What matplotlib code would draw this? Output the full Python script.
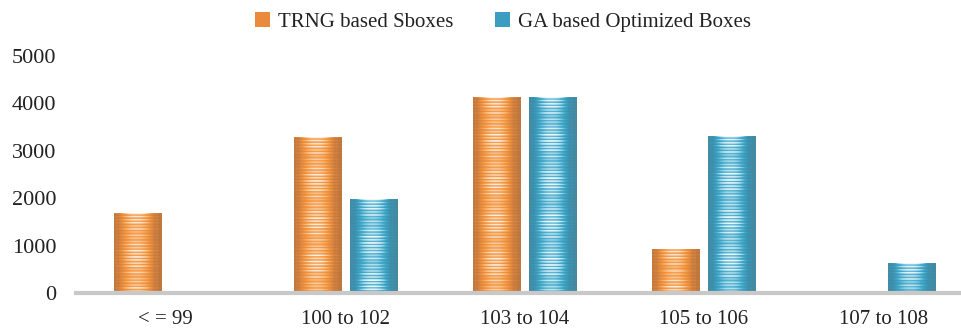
import numpy as np
import matplotlib
matplotlib.use("Agg")
import matplotlib.pyplot as plt
from matplotlib.colors import LinearSegmentedColormap

categories = ["< = 99", "100 to 102", "103 to 104", "105 to 106", "107 to 108"]
trng_values = [1680, 3290, 4130, 930, 0]
ga_values = [0, 1980, 4130, 3310, 630]
series_names = ["TRNG based Sboxes", "GA based Optimized Boxes"]
y_ticks = [0, 1000, 2000, 3000, 4000, 5000]

plt.rcParams["font.family"] = ["Liberation Serif", "DejaVu Serif"]

fig = plt.figure(figsize=(9.61, 3.29), dpi=100)
ax = fig.add_axes([0.0791, 0.1094, 0.9334, 0.7204])

x = np.arange(len(categories))
bw = 0.262
off = 0.156

orange_cmap = LinearSegmentedColormap.from_list(
    "orng", ["#B0703C", "#D88440", "#F3953F", "#F9C08A", "#FDEEE2"])
blue_cmap = LinearSegmentedColormap.from_list(
    "blu", ["#4A8396", "#3B94B3", "#44AACB", "#A6D9EA", "#EDF7FA"])

b1 = ax.bar(x - off, trng_values, bw, color="#E98A3C", label=series_names[0],
            linewidth=0, zorder=2)
b2 = ax.bar(x + off, ga_values, bw, color="#3B9EC0", label=series_names[1],
            linewidth=0, zorder=2)

ax.set_xlim(-0.5, len(categories) - 0.5)
ax.set_ylim(0, 5000)
fig.canvas.draw()


def striped_texture(w_px, h_px):
    xs = np.linspace(0, 1, max(w_px, 2))
    # light band through the middle, darker strips toward both edges
    prof = np.clip(1.0 - 2.6 * np.abs(xs - 0.47) ** 2.0 * 2.0, 0.25, 1.0)
    prof[:max(1, w_px // 20)] *= 0.75
    prof[-max(1, w_px // 10):] *= 0.6
    rows = np.arange(max(h_px, 2))
    fine = 0.5 + 0.5 * np.cos(2 * np.pi * rows / 3.1)
    medium = 0.5 + 0.5 * np.sin(2 * np.pi * rows / 7.3 + 0.8)
    slow = 0.5 + 0.5 * np.sin(2 * np.pi * rows / 41.0 + 1.3)
    stripes = 0.15 + 0.5 * fine * (0.4 + 0.6 * medium) + 0.35 * slow * fine
    v = prof[None, :] * (0.45 + 0.65 * stripes[:, None])
    return np.clip(v, 0, 1)


for bars, cmap in ((b1, orange_cmap), (b2, blue_cmap)):
    for rect in bars:
        h = rect.get_height()
        if h <= 0:
            continue
        x0 = rect.get_x()
        x1 = x0 + rect.get_width()
        p0 = ax.transData.transform((x0, 0))
        p1 = ax.transData.transform((x1, h))
        w_px = int(round(p1[0] - p0[0]))
        h_px = int(round(p1[1] - p0[1]))
        tex = striped_texture(w_px, h_px)
        im = ax.imshow(tex, cmap=cmap, vmin=0, vmax=1, aspect="auto",
                       extent=(x0, x1, 0, h), origin="upper",
                       interpolation="nearest", zorder=3)
        im.set_clip_path(rect)

ax.set_xlim(-0.5, len(categories) - 0.5)
ax.set_ylim(0, 5000)

for s in ("top", "right", "left"):
    ax.spines[s].set_visible(False)
ax.spines["bottom"].set_color("#C8C8C8")
ax.spines["bottom"].set_linewidth(3)
ax.spines["bottom"].set_zorder(4)

ax.set_xticks(x)
ax.set_xticklabels(categories)
ax.set_yticks(y_ticks)
ax.set_yticklabels([str(v) for v in y_ticks])
ax.tick_params(axis="both", length=0, labelsize=15, colors="#222222")
ax.tick_params(axis="y", labelsize=16, pad=14)
ax.tick_params(axis="x", pad=12)

leg = fig.legend(handles=[b1, b2], labels=series_names, loc="upper center",
                 bbox_to_anchor=(0.523, 1.02), ncol=2, frameon=False,
                 fontsize=15, handlelength=0.75, handleheight=0.75,
                 handletextpad=0.35, columnspacing=2.0)
for t in leg.get_texts():
    t.set_color("#222222")

fig.savefig("out.png", dpi=100)
